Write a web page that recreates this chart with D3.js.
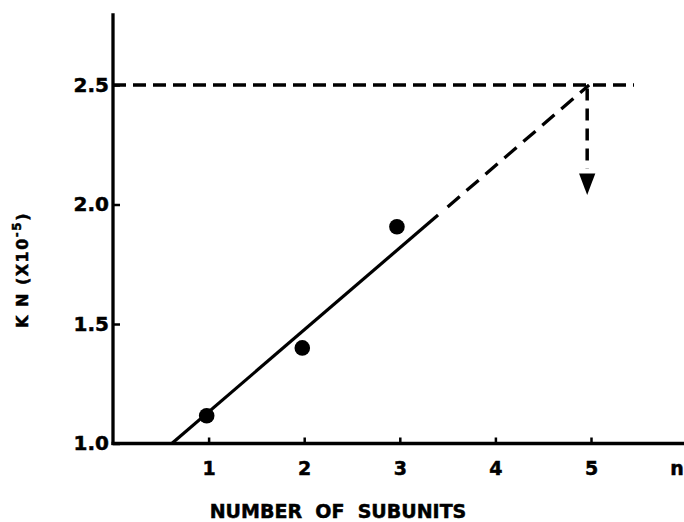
<!DOCTYPE html>
<html><head><meta charset="utf-8">
<script src="https://cdn.jsdelivr.net/npm/d3@7"></script>
<style>
html,body{margin:0;padding:0;background:#fff;}
text{font-family:"DejaVu Sans",sans-serif;font-weight:bold;fill:#000;stroke:#000;stroke-width:0.5px;}
</style>
</head><body>
<svg id="c" width="684" height="522"></svg>
<script>
// ---- data ----
const xTickValues = [1, 2, 3, 4, 5];
const yTickValues = [1.0, 1.5, 2.0, 2.5];
const yTickLabels = ["1.0", "1.5", "2.0", "2.5"];
const pointsN = [0.98, 1.98, 2.97];
const pointsKN = [1.116, 1.40, 1.907];
const fitSolid = [[0.615, 1.0], [3.40, 1.956]];
const fitDashed = [[3.50, 1.99], [4.98, 2.5]];
const refLine = [[0, 2.5], [5.45, 2.5]];
const arrowShaft = [[4.96, 2.485], [4.96, 2.15]];
const arrowHead = [[4.875, 2.13], [5.045, 2.13], [4.96, 2.04]];
const xTitle = "NUMBER  OF  SUBUNITS";
const nLabel = "n";

// ---- scales ----
const svg = d3.select("#c");
const x = d3.scaleLinear().domain([0, 6]).range([113, 113 + 6 * 95.6]);
const y = d3.scaleLinear().domain([1.0, 2.5]).range([443.5, 85]);
const line = d3.line().x(d => x(d[0])).y(d => y(d[1]));

// axes lines
svg.append("line").attr("x1", x(0)).attr("x2", x(0))
  .attr("y1", y(2.8)).attr("y2", y(1.0) + 1.5)
  .attr("stroke", "#000").attr("stroke-width", 3.3);
svg.append("line").attr("x1", x(0) - 1.5).attr("x2", 684)
  .attr("y1", y(1.0)).attr("y2", y(1.0))
  .attr("stroke", "#000").attr("stroke-width", 3.3);

// y axis ticks/labels
const yAxis = d3.axisLeft(y).tickValues(yTickValues)
  .tickFormat((d, i) => yTickLabels[i]).tickSizeInner(-7).tickSizeOuter(0).tickPadding(4);
const gy = svg.append("g").attr("transform", `translate(${x(0)},0)`).call(yAxis);
gy.select(".domain").remove();
gy.selectAll(".tick line").attr("stroke", "#000").attr("stroke-width", 2.5);
gy.selectAll(".tick text").style("font-size", "20px").style("font-family", "DejaVu Sans").style("font-weight", "bold").attr("fill", "#000");

// x axis ticks/labels
const xAxis = d3.axisBottom(x).tickValues(xTickValues).tickFormat(d3.format("d"))
  .tickSizeInner(-6).tickSizeOuter(0).tickPadding(18);
const gx = svg.append("g").attr("transform", `translate(0,${y(1.0)})`).call(xAxis);
gx.select(".domain").remove();
gx.selectAll(".tick line").attr("stroke", "#000").attr("stroke-width", 2.5);
gx.selectAll(".tick text").style("font-size", "19px").style("font-family", "DejaVu Sans").style("font-weight", "bold").attr("fill", "#000");

// n label
svg.append("text").attr("x", x(5.9)).attr("y", y(1.0) + 18).attr("dy", "0.71em")
  .attr("text-anchor", "middle").style("font-size", "19px").text(nLabel);

// reference dashed horizontal line
svg.append("path").attr("d", line(refLine)).attr("fill", "none")
  .attr("stroke", "#000").attr("stroke-width", 3.5).attr("stroke-dasharray", "13,7");

// fit line
svg.append("path").attr("d", line(fitSolid)).attr("fill", "none")
  .attr("stroke", "#000").attr("stroke-width", 3.2);
svg.append("path").attr("d", line(fitDashed)).attr("fill", "none")
  .attr("stroke", "#000").attr("stroke-width", 3.3).attr("stroke-dasharray", "16,9");

// arrow
svg.append("path").attr("d", line(arrowShaft)).attr("fill", "none")
  .attr("stroke", "#000").attr("stroke-width", 3.5).attr("stroke-dasharray", "12,8");
svg.append("path").attr("d", line(arrowHead) + "Z").attr("fill", "#000");

// points
svg.selectAll("circle.pt").data(pointsN).enter().append("circle")
  .attr("class", "pt").attr("cx", d => x(d)).attr("cy", (d, i) => y(pointsKN[i]))
  .attr("r", 7.8).attr("fill", "#000");

// titles
svg.append("text").attr("x", 338).attr("y", 518).attr("text-anchor", "middle")
  .style("font-size", "19px").style("white-space", "pre").text(xTitle);

const yt = svg.append("text").attr("transform", "translate(28,270) rotate(-90)")
  .attr("text-anchor", "middle").style("font-size", "16px").style("letter-spacing", "1.5px");
yt.append("tspan").text("K N  (X10");
yt.append("tspan").attr("dy", -7).style("font-size", "12px").text("-5");
yt.append("tspan").attr("dy", 7).text(")");
</script>
</body></html>
